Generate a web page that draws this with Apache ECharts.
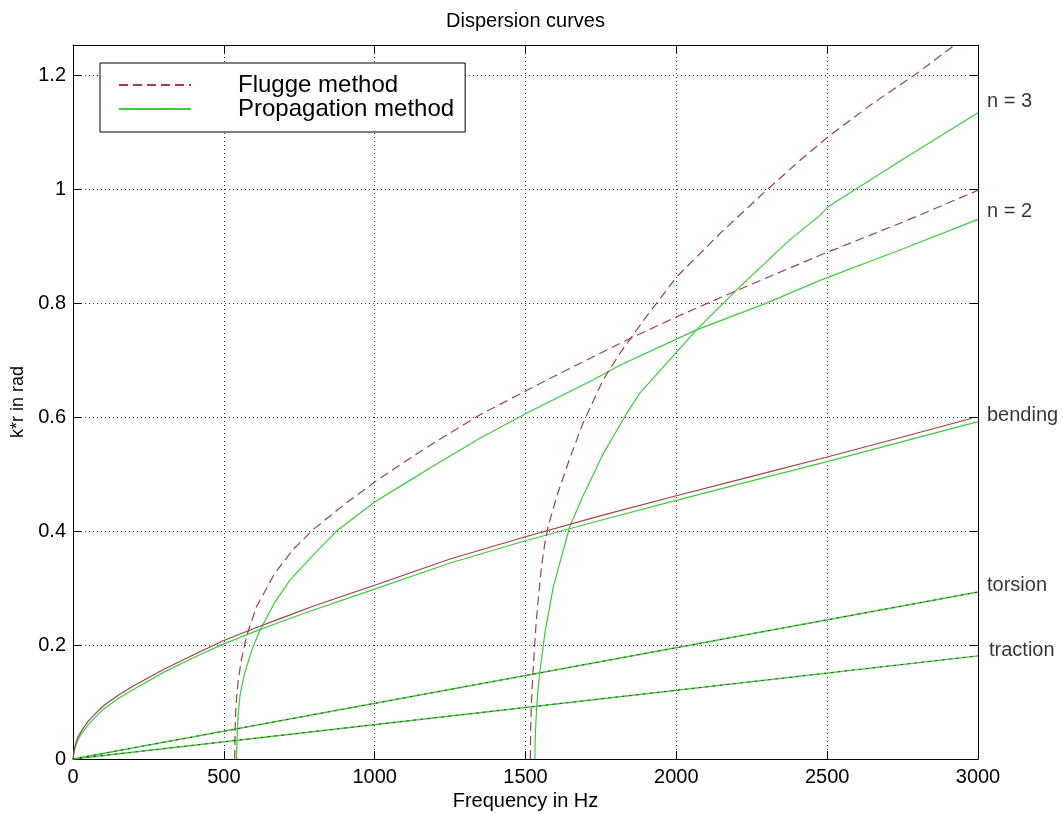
<!DOCTYPE html>
<html><head><meta charset="utf-8">
<script src="https://cdn.jsdelivr.net/npm/echarts/dist/echarts.min.js"></script>
<style>html,body{margin:0;padding:0;background:#fff}#c{width:1063px;height:814px}</style>
</head><body><div id="c"></div>
<script>
const FONT = '"Liberation Sans", Arial, Helvetica, sans-serif';

// [frequency Hz, k*r rad]
const flBending = [[0,0],[5,0.02],[15,0.037],[30,0.051],[50,0.066],[75,0.08],[100,0.093],[150,0.112],[200,0.128],[300,0.157],[400,0.183],[500,0.208],[600,0.229],[700,0.249],[800,0.269],[1000,0.305],[1250,0.351],[1500,0.39],[1750,0.427],[2000,0.462],[2250,0.496],[2500,0.53],[2750,0.565],[2980,0.598]];
const prBending = [[0,0],[5,0.016],[15,0.032],[30,0.046],[50,0.06],[75,0.074],[100,0.087],[150,0.106],[200,0.122],[300,0.152],[400,0.178],[500,0.202],[600,0.223],[700,0.243],[800,0.262],[1000,0.298],[1250,0.344],[1500,0.383],[1750,0.419],[2000,0.454],[2250,0.488],[2500,0.522],[2750,0.557],[3000,0.592]];
const flN2 = [[536,0],[537,0.04],[539,0.08],[543,0.112],[548,0.138],[558,0.174],[575,0.215],[608,0.267],[669,0.326],[730,0.368],[795,0.402],[900,0.447],[1000,0.486],[1083,0.516],[1200,0.556],[1349,0.604],[1570,0.665],[1835,0.735],[2001,0.776],[2204,0.823],[2476,0.884],[2750,0.942],[3000,0.998]];
const prN2 = [[542,0],[543,0.02],[544,0.035],[547,0.074],[553,0.109],[561,0.132],[569,0.15],[592,0.19],[619,0.225],[669,0.275],[719,0.314],[800,0.36],[878,0.402],[1000,0.451],[1083,0.478],[1200,0.516],[1349,0.563],[1500,0.606],[1723,0.665],[1813,0.691],[2067,0.753],[2299,0.8],[2476,0.84],[2750,0.895],[3000,0.947]];
const flN3 = [[1516,0],[1517,0.05],[1519,0.09],[1522,0.125],[1526,0.163],[1531,0.205],[1536,0.244],[1544,0.29],[1553,0.337],[1563,0.375],[1575,0.408],[1603,0.46],[1647,0.528],[1691,0.59],[1757,0.665],[1813,0.712],[1900,0.776],[2001,0.846],[2150,0.925],[2299,0.998],[2400,1.046],[2503,1.092],[2650,1.15],[2797,1.203],[2923,1.253],[3000,1.284]];
const prN3 = [[1531,0],[1532,0.03],[1534,0.06],[1536,0.08],[1541,0.12],[1547,0.15],[1564,0.22],[1592,0.302],[1647,0.408],[1691,0.462],[1757,0.535],[1835,0.606],[1879,0.642],[2067,0.753],[2211,0.829],[2376,0.911],[2476,0.954],[2503,0.969],[2750,1.052],[3000,1.134]];
const torsion = [[0,0],[1500,0.1465],[3000,0.293]];
const traction = [[0,0],[1500,0.0905],[3000,0.181]];

const legendNames = ['Flugge method','Propagation method'];
const curveLabels = [
  {name:'n = 3', k:1.153, dx:0},
  {name:'n = 2', k:0.96, dx:0},
  {name:'bending', k:0.603, dx:0},
  {name:'torsion', k:0.305, dx:0},
  {name:'traction', k:0.191, dx:2}
];

const RED = '#a0404a', DARK = '#5a2a30', GREEN = '#3ccc3c';

function line(name, data, color, type, width, z){
  return {name, type:'line', data, xAxisIndex:0, yAxisIndex:0, showSymbol:false, symbol:'none',
    smooth:false, clip:true, z: z||2,
    lineStyle:{color, width: width||1.2, type: type||'solid'}, itemStyle:{color}};
}

const chart = echarts.init(document.getElementById('c'), null, {renderer:'canvas'});
const axisCommon = {
  axisLine:{show:true, onZero:false, lineStyle:{color:'#000', width:1}},
  axisTick:{show:true, inside:true, length:8, lineStyle:{color:'#000'}},
};
const plain = v => String(Math.round(v * 1000) / 1000);
chart.setOption({
  animation:false,
  backgroundColor:'#fff',
  title:{text:'Dispersion curves', left:525.5, textAlign:'center', top:11, padding:0,
    textStyle:{fontFamily:FONT, fontSize:20, fontWeight:'normal', color:'#000'}},
  grid:{left:73, right:85, top:45, bottom:55, containLabel:false, outerBoundsMode:'none'},
  legend:{data:legendNames, orient:'vertical', left:100, top:63, padding:[10,11,11,18], itemGap:0,
    itemWidth:72, itemHeight:14, borderColor:'#000', borderWidth:1, backgroundColor:'#fff',
    selectedMode:false,
    itemStyle:{color:'rgba(0,0,0,0)', borderColor:'rgba(0,0,0,0)', borderWidth:0, opacity:0},
    textStyle:{fontFamily:FONT, fontSize:24, color:'#000', lineHeight:22, padding:[0,0,0,42]}},
  xAxis:[
    Object.assign({type:'value', position:'bottom', min:0, max:3000, interval:500,
      name:'Frequency in Hz', nameLocation:'middle', nameGap:31,
      nameTextStyle:{fontFamily:FONT, fontSize:20, color:'#000'},
      axisLabel:{fontFamily:FONT, fontSize:20, color:'#000', margin:8, formatter:plain},
      splitLine:{show:true, lineStyle:{color:'#333', width:1, type:[1,3]}}}, axisCommon),
    Object.assign({type:'value', position:'top', min:0, max:3000, interval:500,
      axisLabel:{show:false}, splitLine:{show:false}}, axisCommon)
  ],
  yAxis:[
    Object.assign({type:'value', position:'left', min:0, max:1.253, interval:0.2,
      name:'k*r in rad', nameLocation:'middle', nameGap:41,
      nameTextStyle:{fontFamily:FONT, fontSize:18, color:'#000'},
      axisLabel:{fontFamily:FONT, fontSize:20, color:'#000', margin:7, showMaxLabel:false, formatter:plain},
      splitLine:{show:true, lineStyle:{color:'#333', width:1, type:[1,3]}}}, axisCommon),
    Object.assign({type:'value', position:'right', min:0, max:1.253, interval:0.2,
      axisLabel:{show:false}, splitLine:{show:false}}, axisCommon)
  ],
  series:[
    line('Flugge method', flN2, RED, [9,5], 1.2, 3),
    line('Propagation method', torsion, GREEN, 'solid', 1.4),
    line('Propagation method', traction, GREEN, 'solid', 1.4),
    line('Propagation method', prBending, GREEN, 'solid', 1.2),
    line('Propagation method', prN2, GREEN, 'solid', 1.2),
    line('Propagation method', prN3, GREEN, 'solid', 1.2),
    line('Flugge method', flN3, RED, [9,5], 1.2, 3),
    line('Flugge method', flBending, RED, 'solid', 1.2, 3),
    line('Flugge method', torsion, DARK, [2,5], 1, 3),
    line('Flugge method', traction, DARK, [2,5], 1, 3),
    {name:'labels', type:'scatter', symbolSize:0, silent:true, clip:false,
      data: curveLabels.map(d => ({name:d.name, value:[3000, d.k],
        label:{offset:[d.dx,0]}})),
      label:{show:true, position:'right', distance:9, formatter:p => p.name,
        fontFamily:FONT, fontSize:20, color:'#000'}}
  ]
});
</script>
</body></html>
